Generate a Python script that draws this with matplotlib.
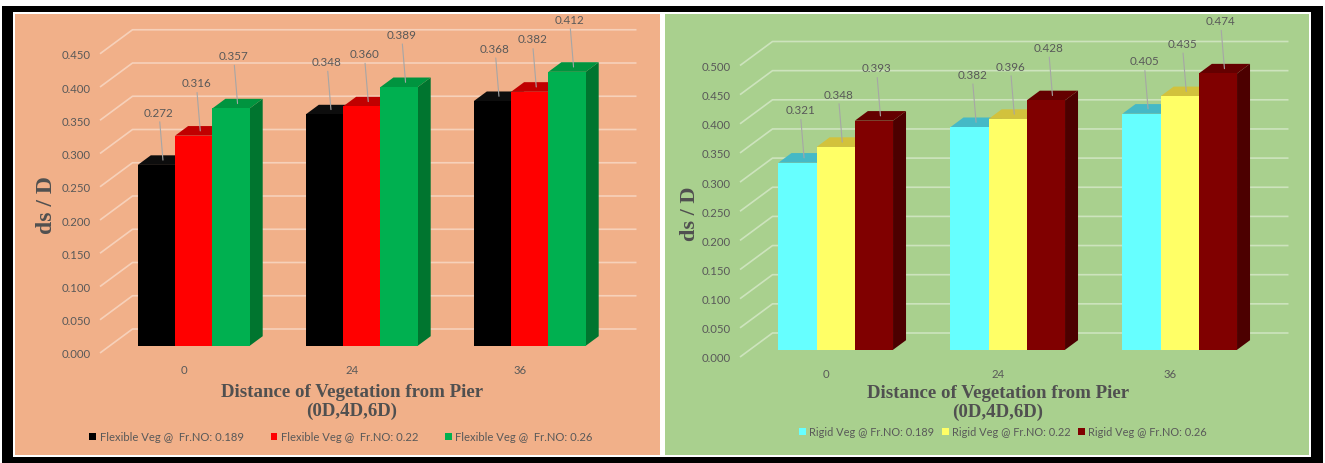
import matplotlib
matplotlib.use("Agg")
import matplotlib.pyplot as plt
import matplotlib.transforms as mtransforms
from matplotlib.patches import Rectangle, Polygon
import numpy as np

# ---- data -------------------------------------------------------------
categories = ["0", "24", "36"]

flex_fr189 = [0.272, 0.348, 0.368]
flex_fr022 = [0.316, 0.360, 0.382]
flex_fr026 = [0.357, 0.389, 0.412]

rigid_fr189 = [0.321, 0.382, 0.405]
rigid_fr022 = [0.348, 0.396, 0.435]
rigid_fr026 = [0.393, 0.428, 0.474]

flex_names = ["Flexible Veg @  Fr.NO: 0.189",
              "Flexible Veg @  Fr.NO: 0.22",
              "Flexible Veg @  Fr.NO: 0.26"]
rigid_names = ["Rigid Veg @ Fr.NO: 0.189",
               "Rigid Veg @ Fr.NO: 0.22",
               "Rigid Veg @ Fr.NO: 0.26"]

flex_ticks = np.arange(0, 0.4501, 0.05)
rigid_ticks = np.arange(0, 0.5001, 0.05)

x_title = "Distance of Vegetation from Pier\n(0D,4D,6D)"
y_title = "ds / D"

# ---- styling ----------------------------------------------------------
W, H = 1325, 464
SANS = ["Lato", "DejaVu Sans"]
SERIF = ["Liberation Serif", "DejaVu Serif"]
TXT = "#595959"

flex_faces = [("#000000", "#0d0d0d", "#000000"),
              ("#ff0000", "#c00000", "#a00000"),
              ("#00b050", "#00943f", "#00752f")]
rigid_faces = [("#66ffff", "#45b9c6", "#3aa0aa"),
               ("#ffff66", "#d2c23c", "#b0a030"),
               ("#800000", "#640000", "#4c0000")]

fig = plt.figure(figsize=(W / 100, H / 100), dpi=100)
fig.patch.set_facecolor("white")


def px_rect(x0, y0, x1, y1, **kw):
    """Rectangle given in image pixels (origin top-left)."""
    return Rectangle((x0 / W, 1 - y1 / H), (x1 - x0) / W, (y1 - y0) / H,
                     transform=fig.transFigure, **kw)


# panel backgrounds
fig.patches.append(px_rect(2, 7, 1323, 464, facecolor="black", lw=0, zorder=-5))
fig.patches.append(px_rect(13, 13, 1311, 458, facecolor="white", lw=0, zorder=-4))
fig.patches.append(px_rect(15, 15, 660, 456, facecolor="#f1b089", lw=0, zorder=-3))
fig.patches.append(px_rect(665, 15, 1309, 456, facecolor="#a9d08e", lw=0, zorder=-3))
# top frame band drawn over the plot area
fig.patches.append(px_rect(2, 7, 1323, 13, facecolor="black", lw=0, zorder=20))
fig.patches.append(px_rect(15, 13, 660, 15, facecolor="white", lw=0, zorder=20))
fig.patches.append(px_rect(665, 13, 1309, 15, facecolor="white", lw=0, zorder=20))


def panel(left_px, floor_px, cat_px, unit_px, ymax, series, names, faces,
          ticks, grid_rgba, legend_xy, legend_size, colspace, title_y, ylab_xy,
          ylab_size):
    wall_dx_px, wall_dy_px = 32.5, 24.0
    dxw = wall_dx_px / cat_px
    dyw = wall_dy_px / unit_px
    width_px = (3 + dxw) * cat_px
    height_px = ymax * unit_px
    ax = fig.add_axes([left_px / W, 1 - floor_px / H, width_px / W, height_px / H])
    ax.set_xlim(-0.5, 2.5 + dxw)
    ax.set_ylim(0, ymax)
    ax.patch.set_alpha(0)
    for s in ax.spines.values():
        s.set_visible(False)

    # back wall and floor-side grid lines
    for v in ticks:
        ax.plot([-0.5, -0.5 + dxw, 2.5 + dxw], [v, v + dyw, v + dyw],
                color=grid_rgba, lw=1.2, zorder=1, clip_on=False,
                solid_capstyle="butt")

    # 3-D columns
    f_front = 0.30
    f_depth = 0.40
    bw = 0.222
    ddx, ddy = f_depth * dxw, f_depth * dyw
    base = f_front * dyw
    xs = np.arange(len(categories))
    handles = []
    for i, (vals, (cf, ct, cs)) in enumerate(zip(series, faces)):
        xc = xs + (i - 1) * bw + f_front * dxw
        z = 3 + 3 * i
        for x, v in zip(xc, vals):
            xl, xr = x - bw / 2, x + bw / 2
            top = base + v
            ax.add_patch(Polygon([(xr, base), (xr + ddx, base + ddy),
                                  (xr + ddx, top + ddy), (xr, top)],
                                 closed=True, facecolor=cs, lw=0, zorder=z))
            ax.add_patch(Polygon([(xl, top), (xr, top), (xr + ddx, top + ddy),
                                  (xl + ddx, top + ddy)],
                                 closed=True, facecolor=ct, lw=0, zorder=z + 1))
        bars = ax.bar(xc, vals, width=bw, bottom=base, color=cf, lw=0,
                      zorder=z + 2, label=names[i])
        handles.append(bars)
        for x, v in zip(xc, vals):
            ax.annotate(f"{v:.3f}",
                        xy=(x + ddx * 0.5, base + v + ddy * 0.5),
                        xytext=(-4, 48), textcoords="offset pixels",
                        ha="center", va="center", fontsize=8.4,
                        family=SANS, color=TXT, zorder=15,
                        annotation_clip=False,
                        arrowprops=dict(arrowstyle="-", color="#a6a6a6",
                                        lw=0.8, shrinkA=1, shrinkB=0))

    ax.set_yticks(ticks)
    ax.set_yticklabels([f"{t:.3f}" for t in ticks], family=SANS,
                       fontsize=8.2, color=TXT)
    ax.set_xticks(xs)
    ax.set_xticklabels(categories, family=SANS, fontsize=8.2, color=TXT)
    ax.tick_params(axis="y", length=0, pad=7.0)
    ax.tick_params(axis="x", length=0, pad=8.0)

    # axis titles
    tr = mtransforms.blended_transform_factory(ax.transData, fig.transFigure)
    ax.text(1.0, 1 - title_y / H, x_title, transform=tr, ha="center",
            va="center", family=SERIF, fontweight="bold", fontsize=13.6,
            color="#505050", linespacing=1.08)
    fig.text(ylab_xy[0] / W, 1 - ylab_xy[1] / H, y_title, rotation=90,
             ha="center", va="center", family=SERIF, fontweight="bold",
             fontsize=ylab_size, color="#505050")

    ax.legend(handles=handles, loc="center",
              bbox_to_anchor=(legend_xy[0] / W, 1 - legend_xy[1] / H),
              bbox_transform=fig.transFigure, ncol=3, frameon=False,
              prop={"family": SANS, "size": legend_size}, labelcolor=TXT,
              handlelength=0.6, handleheight=0.6, handletextpad=0.3,
              columnspacing=colspace, borderpad=0)
    return ax


panel(left_px=100, floor_px=354, cat_px=168, unit_px=665, ymax=0.5,
      series=[flex_fr189, flex_fr022, flex_fr026], names=flex_names,
      faces=flex_faces, ticks=flex_ticks,
      grid_rgba=(1, 1, 1, 0.42), legend_xy=(341, 438), legend_size=8.1,
      colspace=2.4, title_y=402, ylab_xy=(46, 205), ylab_size=17)

panel(left_px=740, floor_px=358, cat_px=172, unit_px=583, ymax=0.55,
      series=[rigid_fr189, rigid_fr022, rigid_fr026], names=rigid_names,
      faces=rigid_faces, ticks=rigid_ticks,
      grid_rgba=(1, 1, 1, 0.42), legend_xy=(1003, 433), legend_size=7.9,
      colspace=0.7, title_y=403, ylab_xy=(690, 214), ylab_size=16)

fig.savefig("out.png", dpi=100, facecolor=fig.get_facecolor())
